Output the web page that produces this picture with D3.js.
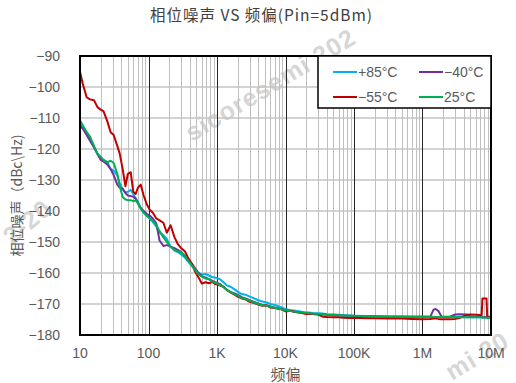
<!DOCTYPE html>
<html>
<head>
<meta charset="utf-8">
<script src="https://cdn.jsdelivr.net/npm/d3@7"></script>
<style>
  body { margin: 0; background: #fff; }
  svg { display: block; }
</style>
</head>
<body>
<script>
// DATA
var freqs = [10, 11, 12.5, 14, 16, 18, 20, 22, 25, 28,
  31, 35, 38, 42, 46, 50, 55, 60, 65, 70,
  77, 85, 95, 105, 115, 130, 145, 165, 185, 210,
  240, 270, 300, 340, 380, 430, 480, 540, 600, 680,
  760, 850, 950, 1100, 1250, 1400, 1600, 1800, 2000, 2300,
  2600, 3000, 3500, 4000, 4600, 5300, 6000, 7000, 8000, 9000,
  10000, 12000, 14000, 17000, 20000, 25000, 30000, 35000, 40000, 50000,
  60000, 70000, 85000, 1e5, 1.5e5, 2e5, 3e5, 5e5, 7e5, 1e6,
  1.3e6, 1.45e6, 1.55e6, 1.7e6, 1.9e6, 2.5e6, 3e6, 3.5e6, 4.4e6, 5e6,
  6e6, 7.3e6, 7.5e6, 8.6e6, 8.8e6, 1e7];

var plus85 = [-110.8, -112.5, -114.8, -116.5, -119.3, -121.7, -123, -123.5, -124.2, -126.5,
  -127, -128.5, -131, -133, -134, -133.8, -133.2, -134.5, -136, -137,
  -139, -140.5, -141.5, -142.5, -143.5, -145, -147, -147.8, -149, -151.5,
  -152.8, -153.3, -154, -155, -156.3, -157.8, -159, -160, -160.5, -160.3,
  -160.8, -161.3, -161.5, -162, -163, -164, -164.5, -165.3, -166, -166.8,
  -167, -167.6, -168.2, -168.8, -169.2, -169.5, -170, -170.3, -170.8, -171.2,
  -171.7, -172, -172.2, -172.5, -172.7, -172.9, -173, -173.1, -173.3, -173.4,
  -173.5, -173.6, -173.7, -173.8, -173.9, -173.9, -174, -174, -174.1, -174.1,
  -174.1, -174.1, -174.2, -174.2, -174.2, -174.2, -174.2, -174.2, -174.3, -174.3,
  -174.3, -174.3, -174.3, -174.3, -174.4, -174.4];

var minus40 = [-112.3, -113.5, -115.5, -117.3, -119.5, -121.5, -123.5, -124, -125, -126.5,
  -128.4, -131.5, -132.5, -132.8, -134.2, -135, -135.2, -135.4, -136, -137.5,
  -139, -140, -141, -141.5, -142.4, -144, -149.5, -151.3, -151, -151.5,
  -152, -152.6, -153.2, -154.5, -156, -157, -158.5, -160, -161, -161.5,
  -162, -162.5, -163, -163.5, -164.5, -165.5, -166.2, -166.6, -167, -167.8,
  -168.2, -168.8, -169.3, -169.8, -170.3, -170.5, -170.8, -171.2, -171.5, -171.8,
  -172, -172.3, -172.6, -172.8, -173, -173.2, -173.3, -173.4, -173.5, -173.6,
  -173.7, -173.8, -173.8, -173.9, -174, -174, -174.1, -174.1, -174.1, -174.1,
  -174.1, -171.8, -171.6, -172.2, -174.1, -174.1, -173.4, -173.3, -173.4, -174.1,
  -174.2, -174.2, -174.3, -174.3, -174.3, -174.3];

var minus55 = [-95.1, -99, -103.3, -104, -104.3, -106.5, -107.3, -107.8, -111, -114.6,
  -115.5, -119, -121.5, -126.5, -132, -128, -127.5, -133.8, -134.5, -132.5,
  -131.5, -135, -138, -139.7, -140.5, -142.4, -143, -143.8, -147, -144.6,
  -148.5, -150.8, -152, -153, -155.2, -157, -159.6, -161.5, -163.4, -163,
  -163.3, -162.9, -163.6, -164, -164.5, -165.5, -166.3, -167, -167.6, -168.2,
  -168.5, -169.3, -169.7, -170.2, -170.6, -170.4, -171.1, -171.3, -171.5, -171.8,
  -172.4, -172.2, -172.6, -172.8, -173.2, -173.2, -173.4, -174.1, -174.2, -174.3,
  -174.3, -174.4, -174.5, -174.4, -174.6, -174.6, -174.7, -174.7, -174.8, -174.9,
  -174.8, -174.7, -174.6, -174.8, -174.9, -174.9, -174.8, -174.5, -173.5, -173.4,
  -173.5, -173.6, -168.2, -168.2, -174, -174.2];

var plus25 = [-110.8, -112.5, -114.5, -116, -119, -121.5, -122.5, -123.5, -124.3, -123.8,
  -124.5, -128, -132, -135.5, -136.3, -136.5, -136.5, -136.8, -136.6, -137.5,
  -139.2, -140.6, -141.6, -142.5, -143, -144.5, -146.5, -148.5, -150, -151.5,
  -152.6, -153, -153.3, -154.5, -156, -157.5, -159, -160.5, -161.2, -161.8,
  -162, -162.8, -163.2, -163.8, -164.5, -165.5, -166.2, -166.8, -167.3, -168,
  -168.4, -169, -169.5, -170, -170.4, -170.6, -170.9, -171.2, -171.5, -171.8,
  -172, -172.3, -172.5, -172.7, -172.9, -173.1, -173.2, -173.3, -173.4, -173.5,
  -173.6, -173.7, -173.8, -173.8, -173.9, -174, -174, -174.1, -174.1, -174.1,
  -174.2, -174.2, -174.2, -174.2, -174.2, -174.2, -174.3, -174.3, -174.3, -174.3,
  -174.3, -174.3, -174.4, -174.4, -174.4, -174.4];

var seriesNames = ['+85°C', '\u221240°C', '\u221255°C', '25°C'];
var seriesColors = ['#00b0f0', '#7030a0', '#c00000', '#00b050'];
var seriesValues = [plus85, minus40, minus55, plus25];

var xTickValues = [10, 100, 1e3, 1e4, 1e5, 1e6, 1e7];
var xTickLabels = ['10', '100', '1K', '10K', '100K', '1M', '10M'];
var yTickValues = [-90, -100, -110, -120, -130, -140, -150, -160, -170, -180];

var svgWidth = 516;
var svgHeight = 383;
var plot = { left: 80, right: 491, top: 56, bottom: 335 };
var labelColor = '#595959';
var tickFont = '"Liberation Sans", Arial, sans-serif';
var cjkFont = '"Noto Sans CJK SC", sans-serif';

// FUNCTIONS
function minusSign(v) {
  return v < 0 ? '\u2212' + Math.abs(v) : String(v);
}

function minorFreqs() {
  var out = [];
  for (var d = 10; d < 1e7; d *= 10) {
    for (var k = 2; k <= 9; k++) out.push(d * k);
  }
  return out;
}

document.addEventListener('DOMContentLoaded', function() {
  var svg = d3.select('body')
    .append('svg')
    .attr('width', svgWidth)
    .attr('height', svgHeight);

  var x = d3.scaleLog().domain([10, 1e7]).range([plot.left, plot.right]);
  var y = d3.scaleLinear().domain([-180, -90]).range([plot.bottom, plot.top]);

  // watermark (only the parts that show)
  var marks = [
    { x: 192, y: 142, angle: -31, t: 'sicoresemi 202' },
    { x: 12, y: 246, angle: -40, t: '2-20' },
    { x: 452, y: 381, angle: -31, t: 'mi 20' }
  ];
  svg.selectAll('text.wm')
    .data(marks)
    .enter()
    .append('text')
    .attr('class', 'wm')
    .attr('transform', function(d) { return 'translate(' + d.x + ',' + d.y + ') rotate(' + d.angle + ')'; })
    .style('font-family', tickFont)
    .style('font-size', '25px')
    .style('font-weight', 'bold')
    .style('letter-spacing', '1px')
    .style('fill', '#d6d6d6')
    .text(function(d) { return d.t; });

  // horizontal grid
  svg.append('g')
    .selectAll('line')
    .data(yTickValues.slice(1, -1))
    .enter()
    .append('line')
    .attr('x1', plot.left)
    .attr('x2', plot.right)
    .attr('y1', function(d) { return y(d); })
    .attr('y2', function(d) { return y(d); })
    .attr('stroke', '#c4c4c4')
    .attr('stroke-width', 1.5);

  // minor vertical grid
  svg.append('g')
    .selectAll('line')
    .data(minorFreqs())
    .enter()
    .append('line')
    .attr('x1', function(d) { return Math.round(x(d)) + 0.5; })
    .attr('x2', function(d) { return Math.round(x(d)) + 0.5; })
    .attr('y1', plot.top)
    .attr('y2', plot.bottom)
    .attr('stroke', '#bfbfbf')
    .attr('stroke-width', 1);

  // major vertical grid
  svg.append('g')
    .selectAll('line')
    .data(xTickValues.slice(1, -1))
    .enter()
    .append('line')
    .attr('x1', function(d) { return Math.round(x(d)) + 0.5; })
    .attr('x2', function(d) { return Math.round(x(d)) + 0.5; })
    .attr('y1', plot.top)
    .attr('y2', plot.bottom)
    .attr('stroke', '#262626')
    .attr('stroke-width', 1);

  // curves
  var line = d3.line()
    .x(function(d) { return x(d[0]); })
    .y(function(d) { return y(d[1]); });

  seriesValues.forEach(function(vals, i) {
    svg.append('path')
      .datum(freqs.map(function(f, j) { return [f, vals[j]]; }))
      .attr('d', line)
      .attr('fill', 'none')
      .attr('stroke', seriesColors[i])
      .attr('stroke-width', 2)
      .attr('stroke-linejoin', 'round');
  });

  // frame
  svg.append('rect')
    .attr('x', plot.left)
    .attr('y', plot.top)
    .attr('width', plot.right - plot.left)
    .attr('height', plot.bottom - plot.top)
    .attr('fill', 'none')
    .attr('stroke', '#000')
    .attr('stroke-width', 2);

  // legend
  var lg = svg.append('g');
  lg.append('rect')
    .attr('x', 318)
    .attr('y', plot.top)
    .attr('width', plot.right - 318)
    .attr('height', 52)
    .attr('fill', '#fff')
    .attr('stroke', '#000')
    .attr('stroke-width', 1.5);
  var items = lg.selectAll('g.item')
    .data(seriesNames)
    .enter()
    .append('g')
    .attr('class', 'item')
    .attr('transform', function(d, i) {
      return 'translate(' + (i % 2 === 0 ? 333 : 419) + ',' + (i < 2 ? 72 : 97) + ')';
    });
  items.append('line')
    .attr('x1', 0).attr('x2', 24)
    .attr('y1', 0).attr('y2', 0)
    .attr('stroke', function(d, i) { return seriesColors[i]; })
    .attr('stroke-width', 2);
  items.append('text')
    .attr('x', 25)
    .attr('y', 5)
    .style('font-family', tickFont)
    .style('font-size', '14px')
    .style('fill', labelColor)
    .text(function(d) { return d; });

  // y ticks
  svg.selectAll('text.ytick')
    .data(yTickValues)
    .enter()
    .append('text')
    .attr('class', 'ytick')
    .attr('x', 60)
    .attr('y', function(d) { return y(d) + 5; })
    .attr('text-anchor', 'end')
    .style('font-family', tickFont)
    .style('font-size', '14px')
    .style('fill', labelColor)
    .text(function(d) { return minusSign(d); });

  // x ticks
  svg.selectAll('text.xtick')
    .data(xTickValues)
    .enter()
    .append('text')
    .attr('class', 'xtick')
    .attr('x', function(d) { return x(d); })
    .attr('y', 358)
    .attr('text-anchor', 'middle')
    .style('font-family', tickFont)
    .style('font-size', '14px')
    .style('fill', labelColor)
    .text(function(d, i) { return xTickLabels[i]; });

  // titles
  svg.append('text')
    .attr('x', 150)
    .attr('y', 21)
    .attr('textLength', 222)
    .attr('lengthAdjust', 'spacing')
    .style('font-family', cjkFont)
    .style('font-size', '15.5px')
    .style('fill', '#404040')
    .text('相位噪声 VS 频偏(Pin=5dBm)');

  svg.append('text')
    .attr('x', (plot.left + plot.right) / 2)
    .attr('y', 380)
    .attr('text-anchor', 'middle')
    .style('font-family', cjkFont)
    .style('font-size', '15px')
    .style('fill', labelColor)
    .text('频偏');

  svg.append('text')
    .attr('transform', 'translate(22,' + (plot.top + plot.bottom) / 2 + ') rotate(-90)')
    .attr('text-anchor', 'middle')
    .style('font-family', cjkFont)
    .style('font-size', '14px')
    .style('fill', labelColor)
    .text('相位噪声（dBc\\Hz)');
});
</script>
</body>
</html>
